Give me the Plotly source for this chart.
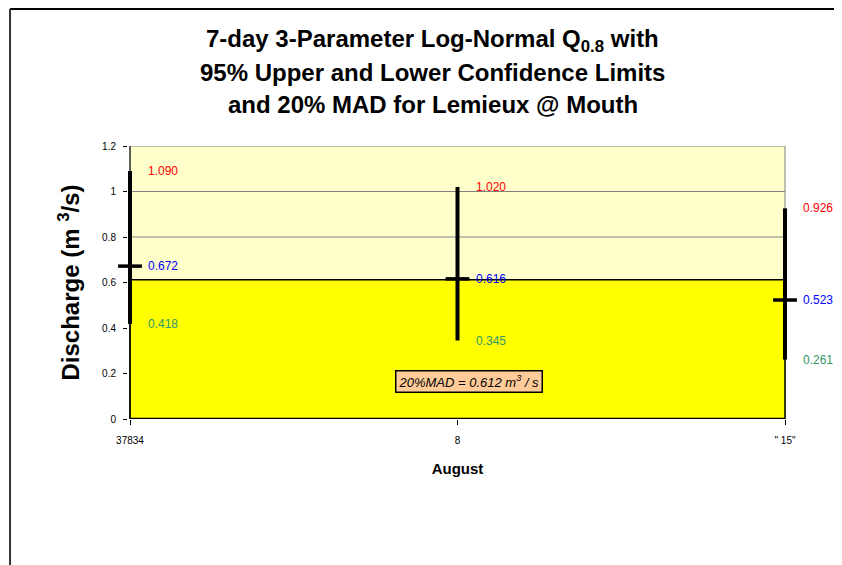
import plotly.graph_objects as go

# ---- data ----
days = [1, 8, 15]
tick_labels = ["37834", "8", '" 15"']
q08 = [0.672, 0.616, 0.523]
upper = [1.090, 1.020, 0.926]
lower = [0.418, 0.345, 0.261]
mad20 = 0.612
y_ticks = [0, 0.2, 0.4, 0.6, 0.8, 1, 1.2]
y_tick_text = ["0", "0.2", "0.4", "0.6", "0.8", "1", "1.2"]

FONT = "Liberation Sans, Arial, sans-serif"
PAD = 2 / 46.786  # small x padding so that bars on the edges are not clipped
X0, X1 = days[0], days[-1]
Y0, Y1 = y_ticks[0], y_ticks[-1]

fig = go.Figure()

# light yellow plotting area with grey border
fig.add_shape(type="rect", xref="x", yref="y", x0=X0, x1=X1, y0=Y0, y1=Y1,
              fillcolor="#FFFFCC", line=dict(color="#808080", width=1), layer="below")
# grid lines
for yv in y_ticks[1:-1]:
    fig.add_shape(type="line", xref="x", yref="y", x0=X0, x1=X1, y0=yv, y1=yv,
                  line=dict(color="#808080", width=1), layer="below")
# 20% MAD region
fig.add_shape(type="rect", xref="x", yref="y", x0=X0, x1=X1, y0=Y0, y1=mad20,
              fillcolor="#FFFF00", line=dict(color="black", width=1.5), layer="below")
# axis lines
fig.add_shape(type="line", xref="x", yref="y", x0=X0, x1=X0, y0=Y0, y1=Y1,
              line=dict(color="black", width=1), layer="below")
fig.add_shape(type="line", xref="x", yref="y", x0=X0, x1=X1, y0=Y0, y1=Y0,
              line=dict(color="black", width=2.5), layer="below")

# confidence range bars with Q0.8 marks
fig.add_trace(go.Scatter(
    x=days, y=q08, mode="markers",
    marker=dict(symbol="line-ew", size=17, color="black",
                line=dict(color="black", width=3.5)),
    error_y=dict(type="data", symmetric=False,
                 array=[u - q for u, q in zip(upper, q08)],
                 arrayminus=[q - l for q, l in zip(q08, lower)],
                 color="black", thickness=4, width=0),
    cliponaxis=False, showlegend=False, hoverinfo="skip"))

# value labels
for x, u, q, l in zip(days, upper, q08, lower):
    for val, col in ((u, "#FF0000"), (q, "#0000FF"), (l, "#339966")):
        fig.add_annotation(x=x, y=val, text=f"{val:.3f}", showarrow=False,
                           xanchor="left", yanchor="middle", xshift=16,
                           font=dict(family=FONT, size=12, color=col))

# outer frame (top and left)
fig.add_shape(type="line", xref="paper", yref="paper", x0=-0.179, x1=1.2, y0=1.5018, y1=1.5018,
              line=dict(color="black", width=2))
fig.add_shape(type="line", xref="paper", yref="paper", x0=-0.179, x1=-0.179, y0=1.5018, y1=-0.6,
              line=dict(color="#333333", width=2))

fig.add_annotation(x=8.25, y=0.167, xref="x", yref="y",
                   text=f"<i>20%MAD = {mad20:.3f} m<sup>3</sup> / s</i>",
                   showarrow=False, bgcolor="#FFCC99", bordercolor="black", borderwidth=1.5,
                   borderpad=2, font=dict(family=FONT, size=13, color="black"))

# title lines
title_lines = ["7-day 3-Parameter Log-Normal Q<sub>0.8</sub> with",
               "95% Upper and Lower Confidence Limits",
               "and 20% MAD for Lemieux @ Mouth"]
for i, t in enumerate(title_lines):
    fig.add_annotation(x=0.4628, y=(419 - 40 - 32 * i) / 273, xref="paper", yref="paper",
                       text=f"<b>{t}</b>", showarrow=False, xanchor="center", yanchor="middle",
                       font=dict(family=FONT, size=24, color="black"))

fig.update_layout(
    width=834, height=557,
    margin=dict(l=120, r=55, t=138, b=146, autoexpand=False),
    paper_bgcolor="white", plot_bgcolor="white",
    font=dict(family=FONT, color="black"),
    xaxis=dict(range=[X0 - PAD, X1 + PAD], tickmode="array", tickvals=days, ticktext=tick_labels,
               showgrid=False, zeroline=False, showline=False,
               ticks="outside", ticklen=5, tickcolor="black", ticklabelstandoff=7,
               tickfont=dict(family=FONT, size=10),
               title=dict(text="<b>August</b>", font=dict(family=FONT, size=15), standoff=18)),
    yaxis=dict(range=[Y0, Y1], tickmode="array", tickvals=y_ticks, ticktext=y_tick_text,
               showgrid=False, zeroline=False, showline=False,
               ticks="outside", ticklen=4, tickcolor="black", ticklabelstandoff=5,
               tickfont=dict(family=FONT, size=10),
               title=dict(text="<b>Discharge (m <sup>3</sup>/s)</b>",
                          font=dict(family=FONT, size=24), standoff=15)),
)

fig.write_html("out.html")
